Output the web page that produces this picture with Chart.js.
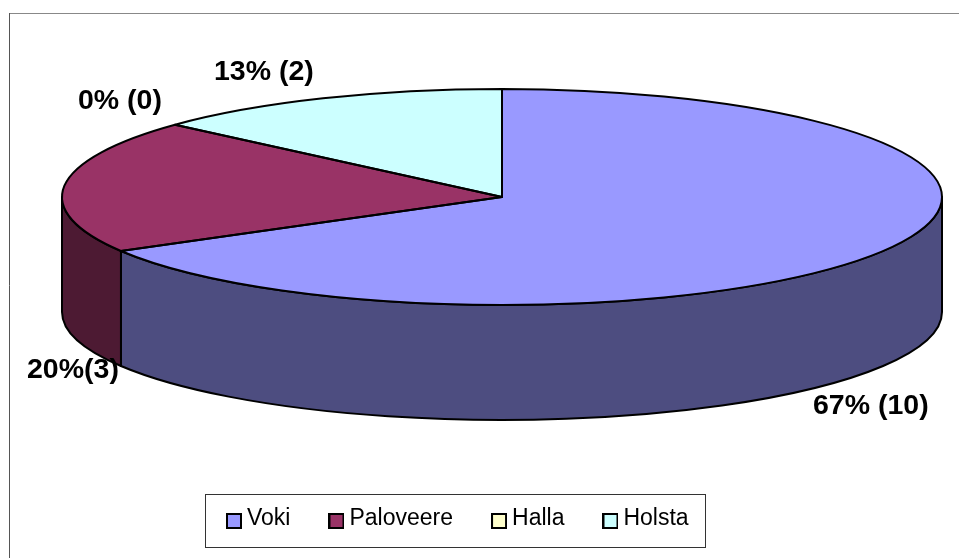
<!DOCTYPE html>
<html>
<head>
<meta charset="utf-8">
<style>html,body{margin:0;padding:0;background:#fff}canvas{display:block}</style>
<script src="https://cdn.jsdelivr.net/npm/chart.js@4"></script>
</head>
<body>
<canvas id="c" width="959" height="558"></canvas>
<script>
const categories = ['Voki', 'Paloveere', 'Halla', 'Holsta'];
const counts = [10, 3, 0, 2];
const sliceLabels = ['67% (10)', '20%(3)', '0% (0)', '13% (2)'];
const topColors = ['#9999FF', '#993366', '#FFFFCC', '#CCFFFF'];
const sideColors = ['#4D4D80', '#4D1A33', '#80806A', '#6A8080'];

const FONT = '"Liberation Sans", Arial, sans-serif';
const view = {cx: 502, cy: 197, rx: 440, ry: 108, depth: 115};
const labelSpots = [[813, 414], [27, 378], [78, 109], [214, 80]];

function swatch(color) {
  const size = 16, drop = 2;
  const cv = document.createElement('canvas');
  cv.width = size; cv.height = size + drop * 2;
  const g = cv.getContext('2d');
  g.fillStyle = color;
  g.fillRect(1, 1 + drop * 2, size - 2, size - 2);
  g.strokeStyle = '#000';
  g.lineWidth = 2;
  g.strokeRect(1, 1 + drop * 2, size - 2, size - 2);
  return cv;
}

const pie3d = {
  id: 'pie3d',
  beforeDraw(chart) {
    const ctx = chart.ctx;
    ctx.save();
    ctx.fillStyle = '#fff';
    ctx.fillRect(0, 0, chart.width, chart.height);
    ctx.lineWidth = 1;
    ctx.strokeStyle = '#888';
    ctx.beginPath(); ctx.moveTo(9, 13.5); ctx.lineTo(959, 13.5); ctx.stroke();
    ctx.strokeStyle = '#555';
    ctx.beginPath(); ctx.moveTo(9.5, 13); ctx.lineTo(9.5, 558); ctx.stroke();
    ctx.strokeStyle = '#333';
    ctx.strokeRect(205.5, 494.5, 500, 53);
    ctx.restore();
  },
  afterLayout(chart) {
    chart.legend.left = 188;
    chart.legend.top = 463;
  },
  beforeDatasetsDraw(chart) {
    const ctx = chart.ctx, {cx, cy, rx, ry, depth} = view;
    const arcs = chart.getDatasetMeta(0).data;
    ctx.save();
    ctx.lineWidth = 2;
    ctx.strokeStyle = '#000';
    ctx.lineJoin = 'round';
    arcs.forEach((arc, i) => {
      if (arc.endAngle <= arc.startAngle) return;
      const a = Math.max(arc.startAngle, 0), b = Math.min(arc.endAngle, Math.PI);
      if (b <= a) return;
      ctx.beginPath();
      ctx.ellipse(cx, cy, rx, ry, 0, a, b);
      ctx.ellipse(cx, cy + depth, rx, ry, 0, b, a, true);
      ctx.closePath();
      ctx.fillStyle = sideColors[i];
      ctx.fill();
      ctx.stroke();
    });
    ctx.restore();
    const first = arcs[0];
    ctx.save();
    ctx.translate(cx, cy);
    ctx.scale(rx / first.outerRadius, ry / first.outerRadius);
    ctx.translate(-first.x, -first.y);
  },
  afterDatasetsDraw(chart) {
    const ctx = chart.ctx, {cx, cy, rx, ry} = view;
    ctx.restore();
    ctx.save();
    ctx.lineWidth = 2;
    ctx.strokeStyle = '#000';
    ctx.lineJoin = 'round';
    chart.getDatasetMeta(0).data.forEach(arc => {
      if (arc.endAngle <= arc.startAngle) return;
      ctx.beginPath();
      ctx.moveTo(cx, cy);
      ctx.ellipse(cx, cy, rx, ry, 0, arc.startAngle, arc.endAngle);
      ctx.closePath();
      ctx.stroke();
    });
    ctx.fillStyle = '#000';
    ctx.font = 'bold 28.5px ' + FONT;
    ctx.textAlign = 'left';
    ctx.textBaseline = 'alphabetic';
    sliceLabels.forEach((t, i) => ctx.fillText(t, labelSpots[i][0], labelSpots[i][1]));
    ctx.restore();
  }
};

new Chart(document.getElementById('c'), {
  type: 'pie',
  data: {
    labels: categories,
    datasets: [{data: counts, backgroundColor: topColors, borderWidth: 0, clip: false}]
  },
  options: {
    responsive: false,
    animation: false,
    devicePixelRatio: 1,
    rotation: 0,
    layout: {padding: 0},
    plugins: {
      tooltip: {enabled: false},
      title: {display: false},
      legend: {
        display: true,
        position: 'bottom',
        align: 'start',
        labels: {
          usePointStyle: true,
          boxWidth: 3,
          padding: 44.5,
          color: '#000',
          font: {family: FONT, size: 23},
          generateLabels: c => c.data.labels.map((t, i) => ({
            text: t,
            pointStyle: swatch(topColors[i]),
            fillStyle: topColors[i],
            strokeStyle: '#000',
            lineWidth: 0,
            hidden: false,
            index: i
          }))
        }
      }
    }
  },
  plugins: [pie3d]
});
</script>
</body>
</html>
